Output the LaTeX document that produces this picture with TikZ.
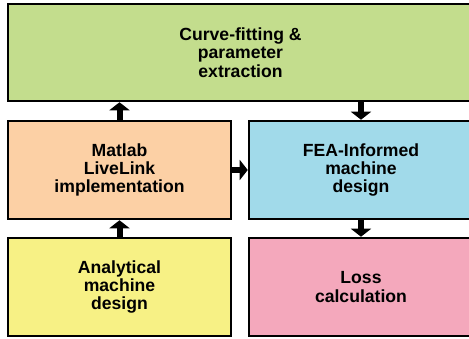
\documentclass[tikz,border=0pt]{standalone}
\usepackage{fontspec}
\setmainfont{Liberation Sans}
\usetikzlibrary{arrows.meta}

\definecolor{fitgreen}{HTML}{C3DD8D}
\definecolor{linkorange}{HTML}{FCD0A5}
\definecolor{feablue}{HTML}{A1DAEA}
\definecolor{anayellow}{HTML}{F7F185}
\definecolor{losspink}{HTML}{F4A8BC}

\tikzset{
  blk/.style={draw=black, line width=1.9pt, align=center, inner sep=0pt,
    font=\bfseries\fontsize{13.2}{13.7}\selectfont},
  flow/.style={line width=4.5pt, -{Triangle[width=15pt,length=6pt]}}
}

\begin{document}
\begin{tikzpicture}[x=0.75pt,y=0.75pt,yscale=-1,xscale=1]
\useasboundingbox (0,0) rectangle (469,339);
% blocks
\node [blk, fill=fitgreen, minimum width=348.75pt, minimum height=72.75pt] (fit) at (240.5,52.5) {Curve-fitting \&\\parameter\\extraction};
\node [blk, fill=linkorange, minimum width=167.25pt, minimum height=73.5pt] (live) at (119.5,170) {Matlab\\LiveLink\\implementation};
\node [blk, fill=feablue, minimum width=168pt, minimum height=73.5pt] (fea) at (361,170) {FEA-Informed\\machine\\design};
\node [blk, fill=anayellow, minimum width=167.25pt, minimum height=73.5pt] (ana) at (119.5,287) {Analytical\\machine\\design};
\node [blk, fill=losspink, minimum width=168pt, minimum height=73.5pt] (loss) at (361,287) {Loss\\calculation};
% arrows
\draw [flow] (ana.north) -- (live.south);
\draw [flow] (live.north) -- (live.north |- fit.south);
\draw [flow] (fea.north |- fit.south) -- (fea.north);
\draw [flow] (live.east) -- (fea.west);
\draw [flow] (fea.south) -- (loss.north);
\end{tikzpicture}
\end{document}
